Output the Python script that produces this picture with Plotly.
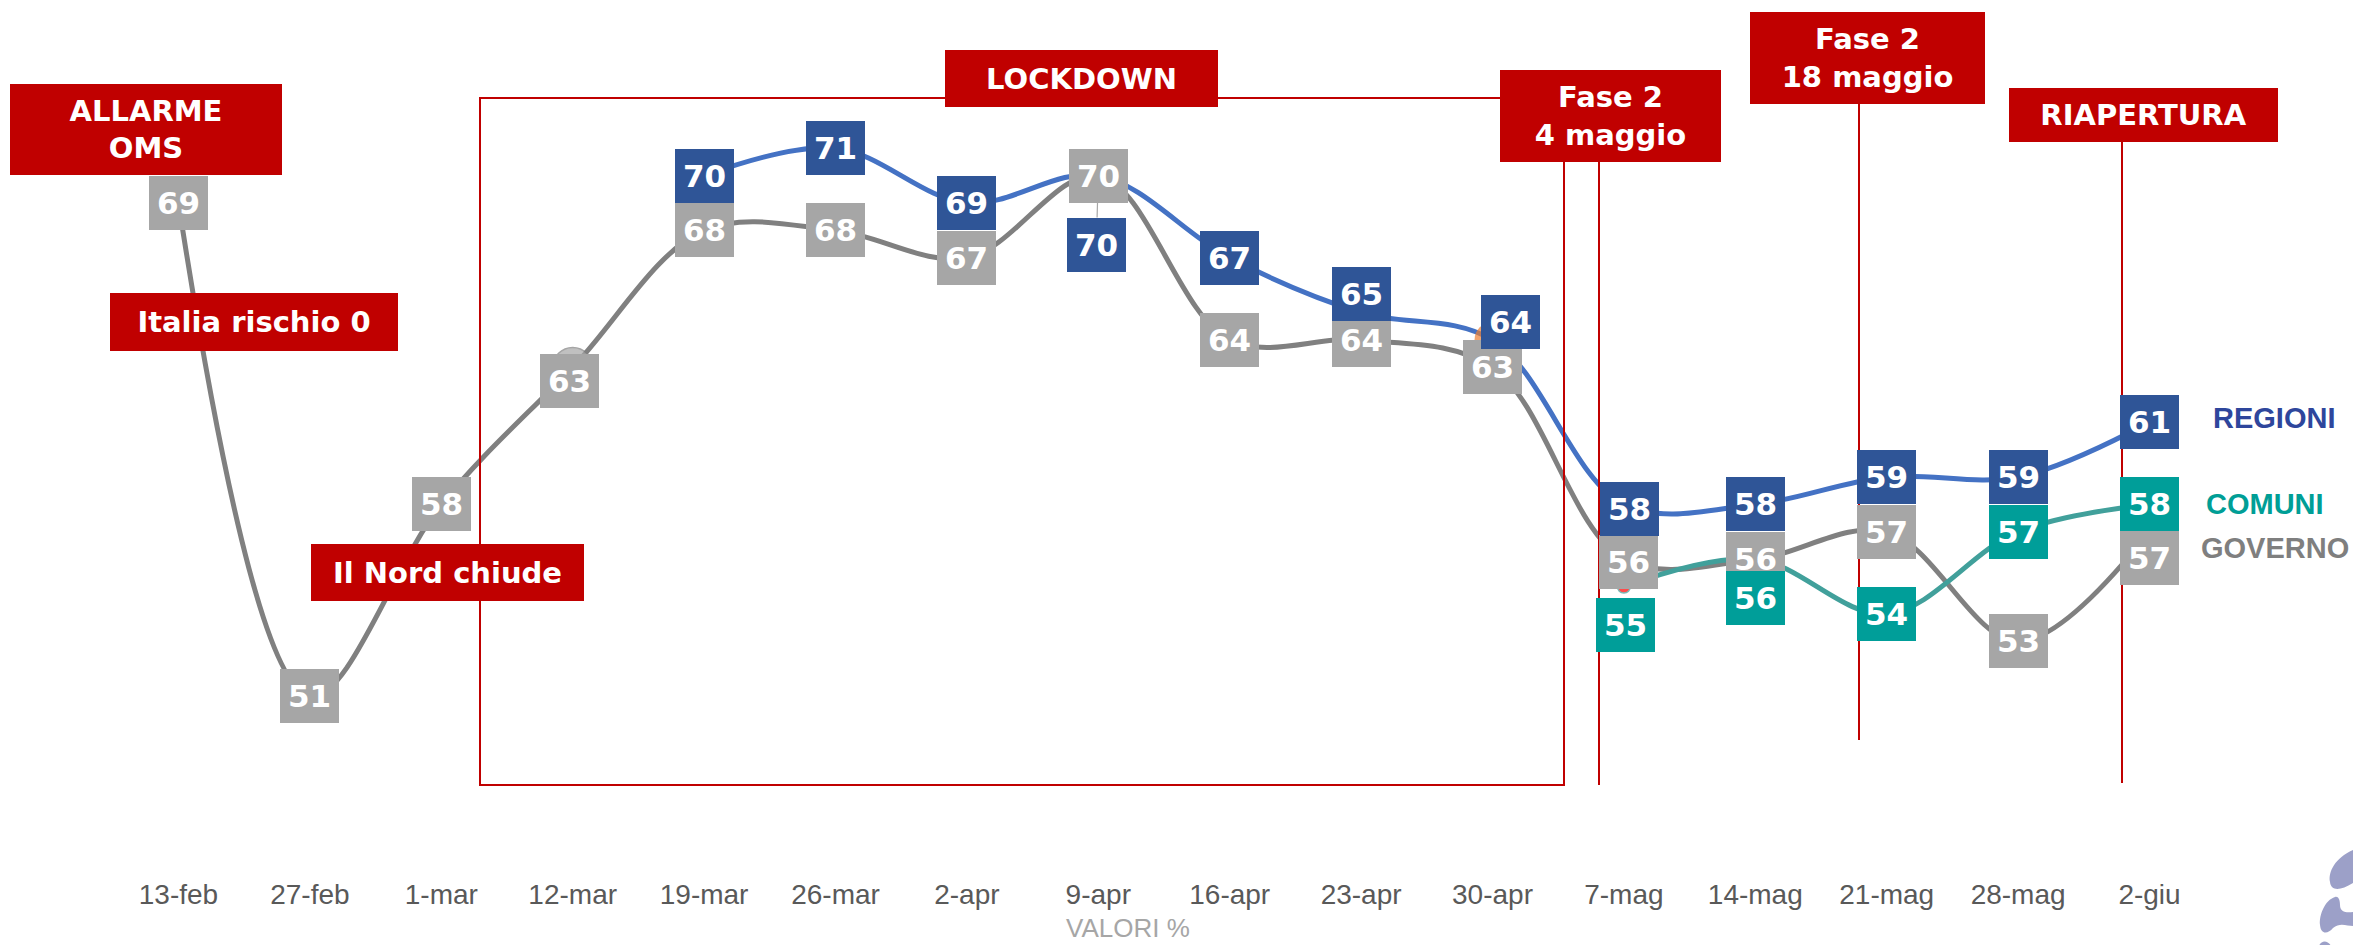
import plotly.graph_objects as go

# ---------------- data ----------------
dates = ["13-feb", "27-feb", "1-mar", "12-mar", "19-mar", "26-mar", "2-apr", "9-apr",
         "16-apr", "23-apr", "30-apr", "7-mag", "14-mag", "21-mag", "28-mag", "2-giu"]
governo = [69, 51, 58, 63, 68, 68, 67, 70, 64, 64, 63, 56, 56, 57, 53, 57]
regioni_dates = ["19-mar", "26-mar", "2-apr", "9-apr", "16-apr", "23-apr", "30-apr",
                 "7-mag", "14-mag", "21-mag", "28-mag", "2-giu"]
regioni = [70, 71, 69, 70, 67, 65, 64, 58, 58, 59, 59, 61]
comuni_dates = ["7-mag", "14-mag", "21-mag", "28-mag", "2-giu"]
comuni = [55, 56, 54, 57, 58]
series_names = ["REGIONI", "COMUNI", "GOVERNO"]
event_texts = ["ALLARME<br>OMS", "Italia rischio 0", "Il Nord chiude", "LOCKDOWN",
               "Fase 2<br>4 maggio", "Fase 2<br>18 maggio", "RIAPERTURA"]
axis_note = "VALORI %"

# ---------------- styling ----------------
W, H = 2353, 945
PLOT_B = 875          # plot area bottom (px)
X0_PX, DX_PX = 178.5, 131.4
Y69_PX, DY_PX = 203.0, 27.4

C_RED = "#C00000"
C_BLUE_LINE, C_BLUE_BOX = "#4472C4", "#2F5597"
C_GRAY_LINE, C_GRAY_BOX = "#808080", "#A6A6A6"
C_TEAL_LINE, C_TEAL_BOX = "#41A09B", "#009E99"

idx = {d: i for i, d in enumerate(dates)}


def px2x(px):
    return (px - X0_PX) / DX_PX


def py2v(py):
    return 69 - (py - Y69_PX) / DY_PX


x_range = [px2x(0), px2x(W)]
y_range = [py2v(PLOT_B), py2v(0)]

fig = go.Figure()

gx = [idx[d] for d in dates]
rx = [idx[d] for d in regioni_dates]
cx = [idx[d] for d in comuni_dates]

# marker artefacts (as in the original)
g_sizes = [0] * len(dates)
g_sizes[idx["12-mar"]] = 40
r_sizes = [0] * len(regioni_dates)
r_sizes[regioni_dates.index("30-apr")] = 36
c_sizes = [0] * len(comuni_dates)
c_sizes[0] = 13

LW = 5
fig.add_trace(go.Scatter(x=gx, y=governo, mode="lines+markers", name="GOVERNO",
                         line=dict(color=C_GRAY_LINE, width=LW, shape="spline", smoothing=1.0),
                         marker=dict(size=g_sizes, color=C_GRAY_BOX,
                                     line=dict(color=C_GRAY_LINE, width=1.5)),
                         hoverinfo="skip"))
fig.add_trace(go.Scatter(x=cx, y=comuni, mode="lines+markers", name="COMUNI",
                         line=dict(color=C_TEAL_LINE, width=LW, shape="spline", smoothing=1.0),
                         marker=dict(size=c_sizes, color="#FF0000",
                                     line=dict(color=C_TEAL_LINE, width=1.5)),
                         hoverinfo="skip"))
fig.add_trace(go.Scatter(x=rx, y=regioni, mode="lines+markers", name="REGIONI",
                         line=dict(color=C_BLUE_LINE, width=LW, shape="spline", smoothing=1.0),
                         marker=dict(size=r_sizes, color="#ED7D31", line=dict(width=0)),
                         hoverinfo="skip"))

# ---------------- data labels ----------------
LBL_FONT = dict(family="DejaVu Sans", size=31, color="white", weight="bold")
annotations = []


def label(xv, yv, text, bg, dx=0, dy=0, arrow_dy=None):
    a = dict(x=xv, y=yv, xref="x", yref="y", text=text, font=LBL_FONT,
             bgcolor=bg, width=59, height=54, borderpad=0, borderwidth=0,
             align="center", valign="middle", xshift=dx, yshift=-dy, showarrow=False)
    if arrow_dy is not None:
        a.update(showarrow=True, ax=dx, ay=arrow_dy, xshift=0, yshift=0, arrowhead=0,
                 arrowwidth=1.2, arrowcolor="#A6A6A6", standoff=27, axref="pixel", ayref="pixel")
    annotations.append(a)


g_off = {"12-mar": (-3, 14), "7-mag": (5, 3), "2-giu": (0, 26)}
for d, v in zip(dates, governo):
    dx, dy = g_off.get(d, (0, 0))
    label(idx[d], v, str(v), C_GRAY_BOX, dx, dy)

c_off = {"7-mag": (2, 38), "14-mag": (0, 39)}
for d, v in zip(comuni_dates, comuni):
    dx, dy = c_off.get(d, (0, 0))
    label(idx[d], v, str(v), C_TEAL_BOX, dx, dy)

r_off = {"23-apr": (0, -19), "30-apr": (18, -18), "7-mag": (6, 5)}
for d, v in zip(regioni_dates, regioni):
    if d == "9-apr":
        label(idx[d], v, str(v), C_BLUE_BOX, -2, 0, arrow_dy=69)
    else:
        dx, dy = r_off.get(d, (0, 0))
        label(idx[d], v, str(v), C_BLUE_BOX, dx, dy)

# ---------------- event call-outs ----------------
EV_FONT = dict(family="DejaVu Sans", size=29, color="white", weight="bold")
event_boxes = [  # (left, top, right, bottom) in px
    (10, 84, 282, 175),
    (110, 293, 398, 351),
    (311, 544, 584, 601),
    (945, 50, 1218, 107),
    (1500, 70, 1721, 162),
    (1750, 12, 1985, 104),
    (2009, 88, 2278, 142),
]

shapes = []
# lockdown frame
shapes.append(dict(type="rect", xref="x", yref="y", x0=px2x(480), x1=px2x(1564),
                   y0=py2v(785), y1=py2v(98), line=dict(color=C_RED, width=2),
                   fillcolor="rgba(0,0,0,0)", layer="above"))
# event vertical lines
for xp, ytop, ybot in [(1599, 162, 785), (1859, 104, 740), (2122, 142, 783)]:
    shapes.append(dict(type="line", xref="x", yref="y", x0=px2x(xp), x1=px2x(xp),
                       y0=py2v(ytop), y1=py2v(ybot), line=dict(color=C_RED, width=2),
                       layer="above"))

for txt, (l, t, r, b) in zip(event_texts, event_boxes):
    annotations.append(dict(x=px2x((l + r) / 2), y=py2v((t + b) / 2), xref="x", yref="y",
                            text=txt, font=EV_FONT, bgcolor=C_RED, width=r - l, height=b - t,
                            borderpad=0, borderwidth=0, align="center", valign="middle",
                            showarrow=False))

# ---------------- series names ----------------
NAME_COL = {"REGIONI": "#2E469C", "COMUNI": "#009E96", "GOVERNO": "#7F7F7F"}
name_pos = {"REGIONI": (regioni[-1], 61, -4), "COMUNI": (comuni[-1], 54, 0),
            "GOVERNO": (governo[-1], 49, 16)}
for nm in series_names:
    v, dx, dy = name_pos[nm]
    annotations.append(dict(x=idx["2-giu"], y=v, xref="x", yref="y", text=nm,
                            xanchor="left", yanchor="middle", xshift=dx, yshift=-dy,
                            font=dict(family="Liberation Sans", size=29, color=NAME_COL[nm],
                                      weight="bold"),
                            showarrow=False))

annotations.append(dict(x=1128 / W, y=-(928 - PLOT_B) / PLOT_B, xref="paper", yref="paper",
                        text=axis_note, showarrow=False, xanchor="center", yanchor="middle",
                        borderpad=0,
                        font=dict(family="Liberation Sans", size=26, color="#A6A6A6")))


# ---------------- decorative logo fragment ----------------
def ppath(pts_cmd):
    out = []
    for tok in pts_cmd:
        if isinstance(tok, str):
            out.append(tok)
        else:
            px, py = tok
            out.append(f"{px / W:.5f},{1 - py / PLOT_B:.5f}")
    return " ".join(out)


LOGO = "#9CA0C8"
logo_paths = [
    ["M", (2353, 850), "C", (2335, 858), (2328, 872), (2330, 882), "C", (2331, 891),
     (2340, 891), (2353, 883), "Z"],
    ["M", (2335, 897), "C", (2325, 900), (2319, 915), (2320, 925), "C", (2321, 935),
     (2328, 934), (2333, 928), "C", (2340, 922), (2347, 926), (2353, 926), "L", (2353, 912),
     "C", (2346, 913), (2340, 912), (2340, 905), "C", (2340, 899), (2338, 896), (2335, 897), "Z"],
    ["M", (2319, 946), "C", (2321, 940), (2328, 940), (2331, 946), "Z"],
]
for p in logo_paths:
    shapes.append(dict(type="path", xref="paper", yref="paper", path=ppath(p),
                       fillcolor=LOGO, line=dict(width=0), layer="above"))

fig.update_layout(
    width=W, height=H,
    margin=dict(l=0, r=0, t=0, b=H - PLOT_B, pad=0),
    paper_bgcolor="white", plot_bgcolor="white",
    showlegend=False,
    xaxis=dict(range=x_range, tickmode="array", tickvals=gx, ticktext=dates,
               showgrid=False, zeroline=False, showline=False, ticks="",
               tickfont=dict(family="Liberation Sans", size=28, color="#595959"),
               fixedrange=True),
    yaxis=dict(range=y_range, showgrid=False, zeroline=False, showline=False,
               showticklabels=False, ticks="", fixedrange=True),
    annotations=annotations,
    shapes=shapes,
)

fig.write_html("out.html", config={"displayModeBar": False, "staticPlot": True},
               post_script="document.body.style.margin='0';document.body.style.overflow='hidden';")
